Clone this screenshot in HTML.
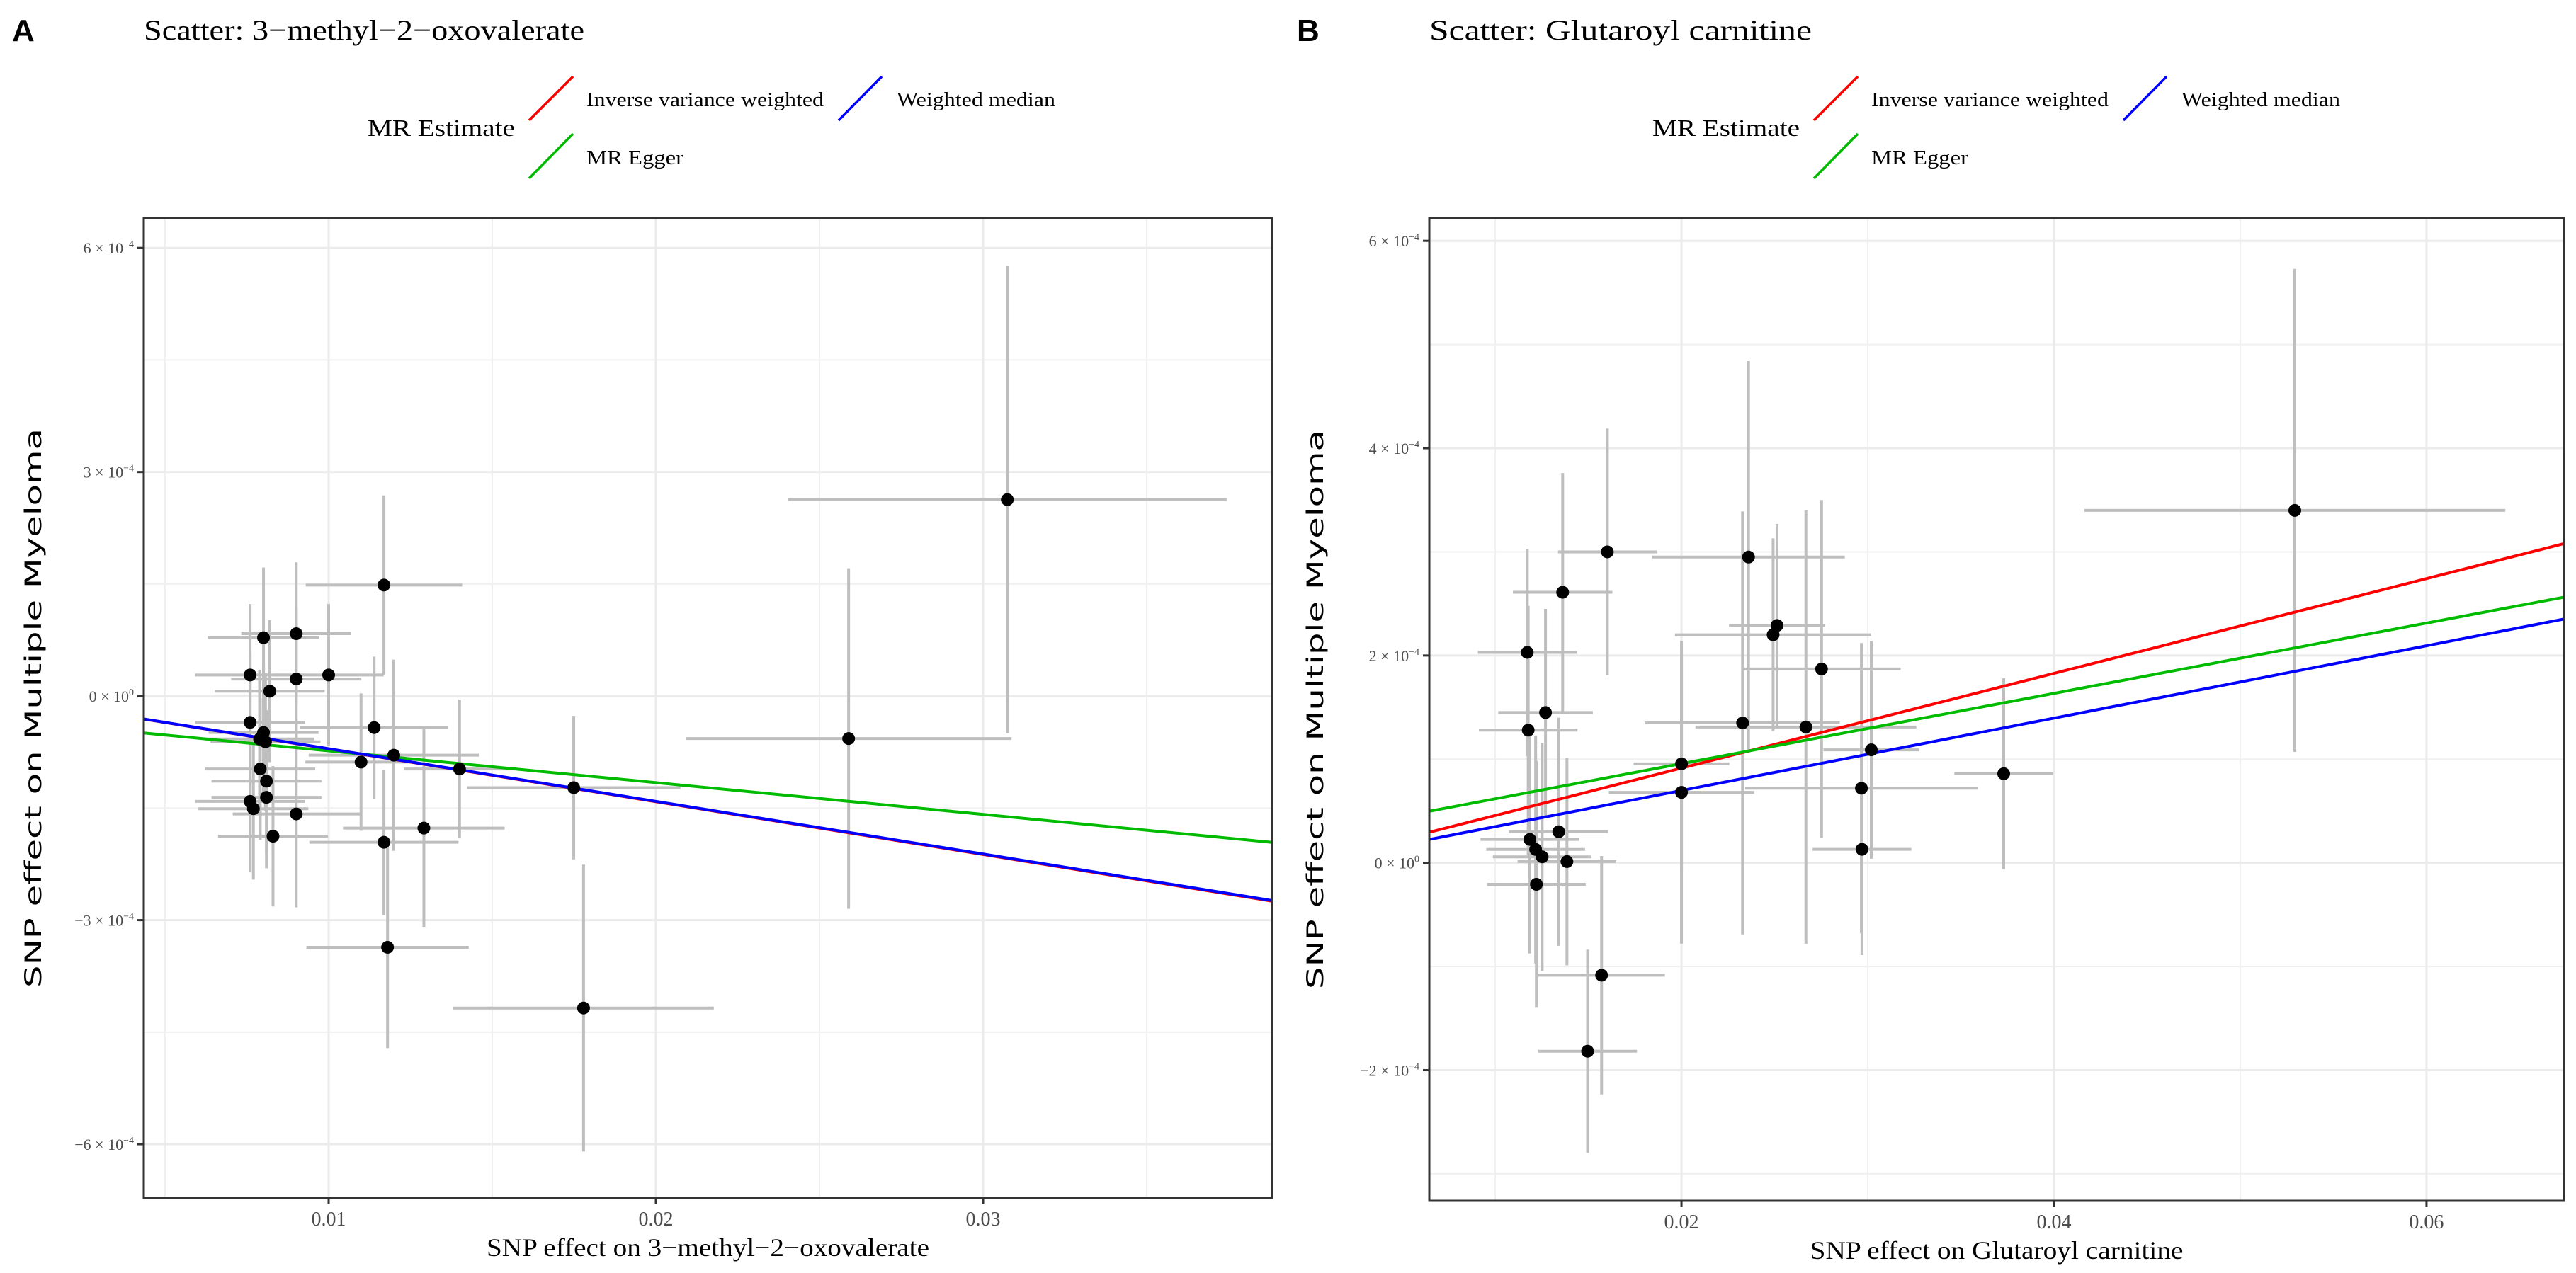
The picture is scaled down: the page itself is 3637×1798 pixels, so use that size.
<!DOCTYPE html>
<html><head><meta charset="utf-8"><style>
html,body{margin:0;padding:0;background:#fff;}
svg{display:block;}
.tl{font-family:"Liberation Serif",serif;fill:#4d4d4d;}
.ser{font-family:"Liberation Serif",serif;fill:#000;}
</style></head><body>
<svg id="fig" xmlns="http://www.w3.org/2000/svg" width="3637" height="1798" viewBox="0 0 3637 1798">
<rect width="3637" height="1798" fill="#fff"/>
<g id="panelA"></g>
<g id="panelB"></g>
</svg>
<script>
// Panel A data (SNP effects)
const aX = [.01169,.00801,.00901,.00760,.00901,.01000,.00820,.00760,.00801,.00807,.00789,.01139,.01099,.01199,.01400,.01749,.00791,.00810,.00810,.00760,.00770,.00901,.00830,.01291,.01169,.01180,.01779,.02589,.03074];
const aY = [1.486,.781,.835,.282,.228,.282,.065,-.353,-.488,-.613,-.575,-.423,-.884,-.792,-.976,-1.226,-.976,-1.139,-1.356,-1.41,-1.508,-1.578,-1.877,-1.768,-1.958,-3.364,-4.177,-.569,2.63];
const aXErr = [.00239,.00169,.00168,.00168,.00199,.00168,.00168,.00168,.00168,.00168,.00168,.00226,.0017,.0026,.0017,.00326,.00168,.00168,.00168,.00168,.00168,.00194,.00168,.00247,.00228,.00248,.00398,.00498,.0067];
const aYErr = [1.20,.94,.955,.95,.95,.95,.95,.92,.92,.92,.92,.95,.92,1.28,.93,.96,.95,.95,.95,.95,.95,1.25,.94,1.33,.97,1.35,1.92,2.28,3.13];
const aSlopes = [-0.00707, -0.00705, -0.00425];
const aIntercepts = [0, 0, -0.309];
const aXTicks = [0.01, 0.02, 0.03];
const aXTickLabels = ["0.01", "0.02", "0.03"];
const aYTicks = [6, 3, 0, -3, -6];
const aYTickLabels = [["6 × 10","−4"],["3 × 10","−4"],["0 × 10","0"],["−3 × 10","−4"],["−6 × 10","−4"]];
// Panel B data
const bX = [.01602,.01362,.0236,.02513,.02492,.02752,.01172,.01270,.01177,.02328,.02668,.03019,.02966,.0373,.02,.02,.02969,.01341,.01186,.01217,.01252,.01385,.01221,.01571,.01496,.05293];
const bY = [3.00,2.61,2.95,2.29,2.20,1.87,2.03,1.45,1.28,1.35,1.31,1.09,.72,.86,.955,.68,.13,.30,.226,.129,.058,.012,-.207,-1.084,-1.817,3.40];
const bXErr = [.00265,.00267,.00517,.00258,.00527,.00425,.00265,.00254,.00265,.00522,.00593,.00257,.00624,.00265,.00257,.0039,.00265,.00265,.00265,.00265,.00265,.00265,.00265,.0034,.00265,.0113];
const bYErr = [1.19,1.15,1.89,.98,.93,1.63,1.0,1.0,1.2,2.04,2.09,1.05,1.4,.92,1.03,1.46,1.02,1.1,1.1,1.1,1.1,1.0,1.19,1.15,.98,2.33];
const bSlopes = [0.00457, 0.00349, 0.00339];
const bIntercepts = [0, 0, 0.279];
const bXTicks = [0.02, 0.04, 0.06];
const bXTickLabels = ["0.02", "0.04", "0.06"];
const bYTicks = [6, 4, 2, 0, -2];
const bYTickLabels = [["6 × 10","−4"],["4 × 10","−4"],["2 × 10","−4"],["0 × 10","0"],["−2 × 10","−4"]];
const lineColors = ["#ff0000", "#0000ff", "#00bb00"];
const lineNames = ["ivw-line", "weighted-median-line", "mr-egger-line"];

const NS = "http://www.w3.org/2000/svg";
function mk(parent, tag, attrs, text) {
  const e = document.createElementNS(NS, tag);
  for (const k in attrs) e.setAttribute(k, attrs[k]);
  if (text !== undefined) e.textContent = text;
  parent.appendChild(e);
  return e;
}

function drawPanel(g, cfg) {
  const L = cfg.box[0], T = cfg.box[1], R = cfg.box[2], B = cfg.box[3];
  const sx = v => L + (v - cfg.xmin) / (cfg.xmax - cfg.xmin) * (R - L);
  const sy = v => B - (v - cfg.ymin) / (cfg.ymax - cfg.ymin) * (B - T);
  let t = mk(g, "text", {x: cfg.ox + 17, y: 58, "font-family": "Liberation Sans, sans-serif", "font-size": 44, "font-weight": "bold"}, cfg.letter);
  
  
  t = mk(g, "text", {x: L, y: 56, class: "ser", "font-size": 40, textLength: cfg.titleLen, lengthAdjust: "spacingAndGlyphs"}, cfg.title);
  
  
  const lg = mk(g, "g", {});
  
  
  t = mk(lg, "text", {x: cfg.ox + 519, y: 192, class: "ser", "font-size": 34, textLength: 208, lengthAdjust: "spacingAndGlyphs"}, "MR Estimate");
  
  
  const keys = [[747,170,809,108,828,150,"Inverse variance weighted",335,0],[1184,170,1245,108,1266,150,"Weighted median",224,1],[747,252,809,189,828,232,"MR Egger",137,2]];
  keys.forEach(k => {
    const e = mk(lg, "g", {});
    
    
    mk(e, "line", {x1: cfg.ox + k[0], y1: k[1], x2: cfg.ox + k[2], y2: k[3], stroke: lineColors[k[8]], "stroke-width": 3.5});
    mk(e, "text", {x: cfg.ox + k[4], y: k[5], class: "ser", "font-size": 28, textLength: k[7], lengthAdjust: "spacingAndGlyphs"}, k[6]);
  });
  const grid = mk(g, "g", {});
  
  
  cfg.xMinor.forEach(v => mk(grid, "line", {x1: sx(v), x2: sx(v), y1: T, y2: B, stroke: "#f0f0f0", "stroke-width": 2}));
  cfg.yMinor.forEach(v => mk(grid, "line", {y1: sy(v), y2: sy(v), x1: L, x2: R, stroke: "#f0f0f0", "stroke-width": 2}));
  cfg.xTicks.forEach(v => mk(grid, "line", {x1: sx(v), x2: sx(v), y1: T, y2: B, stroke: "#ebebeb", "stroke-width": 3}));
  cfg.yTicks.forEach(v => mk(grid, "line", {y1: sy(v * 1e-4), y2: sy(v * 1e-4), x1: L, x2: R, stroke: "#ebebeb", "stroke-width": 3}));
  const eb = mk(g, "g", {stroke: "#bebebe", "stroke-width": 4});
  
  
  cfg.X.forEach((x, i) => {
    const y = cfg.Y[i] * 1e-4;
    const h = mk(eb, "line", {x1: sx(x - cfg.XE[i]), x2: sx(x + cfg.XE[i]), y1: sy(y), y2: sy(y)});
    
    
    const v = mk(eb, "line", {x1: sx(x), x2: sx(x), y1: sy(Math.min(cfg.ymax, y + cfg.YE[i] * 1e-4)), y2: sy(Math.max(cfg.ymin, y - cfg.YE[i] * 1e-4))});
    
    
  });
  const cid = "clip" + cfg.letter;
  const cp = mk(g, "clipPath", {id: cid});
  mk(cp, "rect", {x: L, y: T, width: R - L, height: B - T});
  const lgrp = mk(g, "g", {"clip-path": "url(#" + cid + ")"});
  [0, 2, 1].forEach(j => {
    const a = cfg.slopes[j], b = cfg.ints[j] * 1e-4;
    const ln = mk(lgrp, "line", {x1: sx(cfg.xmin), y1: sy(b + a * cfg.xmin), x2: sx(cfg.xmax), y2: sy(b + a * cfg.xmax), stroke: lineColors[j], "stroke-width": 4});
    
    
  });
  cfg.X.forEach((x, i) => {
    const c = mk(g, "circle", {cx: sx(x), cy: sy(cfg.Y[i] * 1e-4), r: 9, fill: "#000"});
    
    
  });
  const bx = mk(g, "rect", {x: L, y: T, width: R - L, height: B - T, fill: "none", stroke: "#333", "stroke-width": 3});
  
  
  cfg.xTicks.forEach((v, i) => {
    mk(g, "line", {x1: sx(v), x2: sx(v), y1: B, y2: B + 9, stroke: "#333", "stroke-width": 3});
    const tl = mk(g, "text", {x: sx(v), y: B + 39, class: "tl", "font-size": 28, "text-anchor": "middle"}, cfg.xLabels[i]);
    
    
  });
  cfg.yTicks.forEach((v, i) => {
    const yy = sy(v * 1e-4);
    mk(g, "line", {x1: L - 9, x2: L, y1: yy, y2: yy, stroke: "#333", "stroke-width": 3});
    const tl = mk(g, "text", {x: L - 14, y: yy + 8, class: "tl", "font-size": 22, "text-anchor": "end"});
    
    
    mk(tl, "tspan", {}, cfg.yLabels[i][0]);
    mk(tl, "tspan", {dy: -9, "font-size": 14}, cfg.yLabels[i][1]);
  });
  t = mk(g, "text", {x: (L + R) / 2, y: B + 82, class: "ser", "font-size": 36, "text-anchor": "middle", textLength: cfg.xTitleLen, lengthAdjust: "spacingAndGlyphs"}, cfg.xTitle);
  
  
  const yc = (T + B) / 2;
  t = mk(g, "text", {x: cfg.yTitleX, y: yc, "font-family": "DejaVu Sans, sans-serif", "font-size": 32, "text-anchor": "middle", transform: "rotate(-90 " + cfg.yTitleX + " " + yc + ")", textLength: 790, lengthAdjust: "spacingAndGlyphs"}, "SNP effect on Multiple Myeloma");
  
  
}

drawPanel(document.getElementById("panelA"), {
  letter: "A", ox: 0, title: "Scatter: 3−methyl−2−oxovalerate", titleLen: 622,
  box: [203, 308, 1796, 1692], xmin: 0.004351, xmax: 0.03883, ymin: -6.72e-4, ymax: 6.4e-4,
  X: aX, Y: aY, XE: aXErr, YE: aYErr, slopes: aSlopes, ints: aIntercepts,
  xTicks: aXTicks, xLabels: aXTickLabels, yTicks: aYTicks, yLabels: aYTickLabels,
  xMinor: [0.005, 0.015, 0.025, 0.035], yMinor: [4.5e-4, 1.5e-4, -1.5e-4, -4.5e-4],
  xTitle: "SNP effect on 3−methyl−2−oxovalerate", xTitleLen: 625, yTitleX: 58
});
drawPanel(document.getElementById("panelB"), {
  letter: "B", ox: 1814, title: "Scatter: Glutaroyl carnitine", titleLen: 540,
  box: [2018, 308, 3620, 1696], xmin: 0.00646, xmax: 0.06738, ymin: -3.26e-4, ymax: 6.22e-4,
  X: bX, Y: bY, XE: bXErr, YE: bYErr, slopes: bSlopes, ints: bIntercepts,
  xTicks: bXTicks, xLabels: bXTickLabels, yTicks: bYTicks, yLabels: bYTickLabels,
  xMinor: [0.01, 0.03, 0.05], yMinor: [5e-4, 3e-4, 1e-4, -1e-4, -3e-4],
  xTitle: "SNP effect on Glutaroyl carnitine", xTitleLen: 527, yTitleX: 1868
});
</script>
</body></html>
